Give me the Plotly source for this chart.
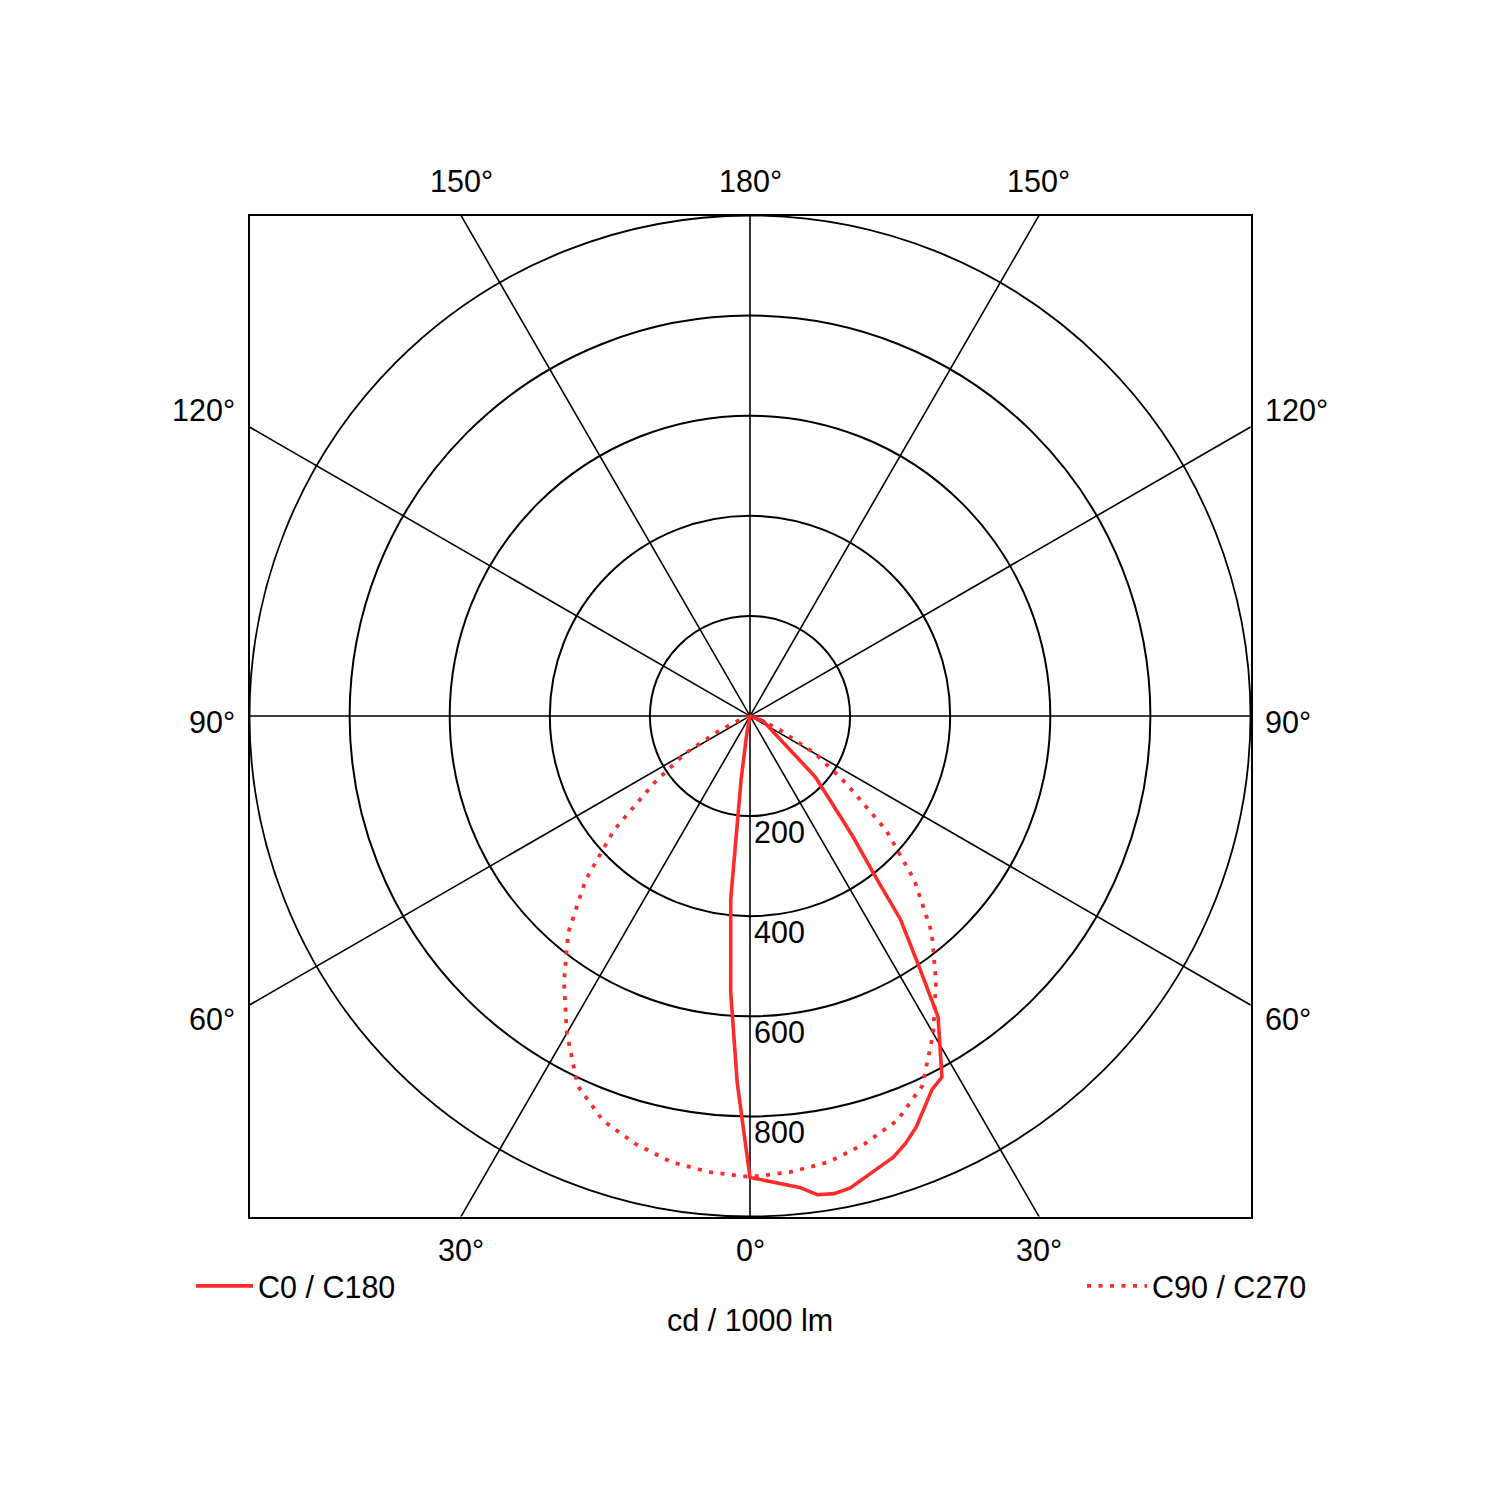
import numpy as np
import plotly.graph_objects as go

# light distribution, values in cd / 1000 lm
gamma_c0 = [0, 6, 8, 10, 12, 14, 18, 20, 22, 26, 28, 32, 34, 36.5, 38, 40.5, 44, 47, 69, 90]
cd_c0 = [922, 947, 966, 969, 964, 950, 927, 909, 886, 830, 817, 709, 604, 505, 406, 316, 223, 178, 28, 0]

gamma_c180 = [0, 2, 4, 6, 8, 10.5, 90]
cd_c180 = [922, 733, 553, 368, 127, 33, 0]

gamma_c90 = [0, 5, 10, 15, 20, 25, 30, 35, 40, 45, 50, 55, 60, 65, 70, 75]
cd_c90 = [921, 915, 905, 885, 860, 815, 732, 648, 565, 465, 355, 235, 150, 65, 20, 0]

radial_ticks = [200, 400, 600, 800]
spoke_angles = [0, 30, 60, 90, 120, 150]

RED = "#ff2b2b"
FONT = "Liberation Sans, Arial, sans-serif"
FS = 30.5

# page body has an 8 px margin, so pixel positions are shifted by that
OFF = 8


def px_x(p):
    return (p - OFF) / 1500


def px_y(p):
    return 1 - (p - OFF) / 1500


# plot area: 1001 px square centred at (750, 716)
half = 1001 / 1500 / 2
cx, cy = px_x(750), px_y(716)
dom_x = [cx - half, cx + half]
dom_y = [cy - half, cy + half]

fig = go.Figure()

# spokes (drawn on a cartesian frame so they run out to the square box)
L = 3000
sx, sy = [], []
for a in spoke_angles:
    t = np.radians(a)
    sx += [-L * np.sin(t), L * np.sin(t), None]
    sy += [L * np.cos(t), -L * np.cos(t), None]
fig.add_trace(go.Scatter(x=sx, y=sy, mode="lines", line=dict(color="black", width=1.6),
                         showlegend=False, hoverinfo="skip"))

# C0 / C180 plane (C180 on the left = negative angles)
theta_solid = [-g for g in gamma_c180[::-1]] + gamma_c0[1:]
r_solid = cd_c180[::-1] + cd_c0[1:]
fig.add_trace(go.Scatterpolar(r=r_solid, theta=theta_solid, mode="lines", name="C0 / C180",
                              line=dict(color=RED, width=3.6), legend="legend"))

# C90 / C270 plane
theta_dot = [-g for g in gamma_c90[::-1]] + gamma_c90[1:]
r_dot = cd_c90[::-1] + cd_c90[1:]
fig.add_trace(go.Scatterpolar(r=r_dot, theta=theta_dot, mode="lines", name="C90 / C270",
                              line=dict(color=RED, width=3.8, dash="4px,7.5px"), legend="legend2"))

ann = []
# radial tick labels just below each ring on the 0 deg spoke
for v in radial_ticks:
    ann.append(dict(x=0, y=-v, text=str(v), xanchor="left", xshift=2, yshift=-16))

# angle labels outside the box
t30 = 1000 * np.tan(np.radians(30))
for x, txt in [(-t30, "150°"), (0, "180°"), (t30, "150°")]:
    ann.append(dict(x=x, y=1000, text=txt, yshift=34))
for x, txt in [(-t30, "30°"), (0, "0°"), (t30, "30°")]:
    ann.append(dict(x=x, y=-1000, text=txt, yshift=-33))
for y, txt, ys in [(t30, "120°", 17), (0, "90°", -6), (-t30, "60°", -14)]:
    ann.append(dict(x=-1000, y=y, text=txt, xanchor="right", xshift=-12, yshift=ys))
    ann.append(dict(x=1000, y=y, text=txt, xanchor="left", xshift=12, yshift=ys))
for a in ann:
    a.update(xref="x", yref="y", showarrow=False, yanchor="middle",
             font=dict(family=FONT, size=FS, color="black"))
    a.setdefault("xanchor", "center")
ann.append(dict(x=px_x(750), y=px_y(1320), xref="paper", yref="paper", text="cd / 1000 lm",
                xanchor="center", yanchor="middle", showarrow=False,
                font=dict(family=FONT, size=FS, color="black")))

axis = dict(range=[-1000, 1000], showgrid=False, zeroline=False, showticklabels=False,
            showline=True, mirror=True, linecolor="black", linewidth=2, ticks="", fixedrange=True)

fig.update_layout(
    width=1500, height=1500,
    margin=dict(l=0, r=0, t=0, b=0),
    paper_bgcolor="white", plot_bgcolor="white",
    font=dict(family=FONT, size=FS, color="black"),
    xaxis=dict(axis, domain=dom_x),
    yaxis=dict(axis, domain=dom_y),
    polar=dict(
        domain=dict(x=dom_x, y=dom_y),
        bgcolor="rgba(0,0,0,0)",
        angularaxis=dict(rotation=-90, direction="counterclockwise", showgrid=False,
                         showticklabels=False, ticks="", showline=True,
                         linecolor="black", linewidth=1.8),
        radialaxis=dict(range=[0, 1000], tickvals=radial_ticks, showgrid=True,
                        gridcolor="black", gridwidth=1.6, showticklabels=False,
                        ticks="", showline=False),
    ),
    legend=dict(x=px_x(191), y=px_y(1286), xanchor="left", yanchor="middle",
                font=dict(family=FONT, size=FS), itemwidth=57, bgcolor="rgba(0,0,0,0)"),
    legend2=dict(x=px_x(1312), y=px_y(1286), xanchor="right", yanchor="middle",
                 font=dict(family=FONT, size=FS), itemwidth=60, bgcolor="rgba(0,0,0,0)"),
    annotations=ann,
)

fig.write_html("out.html")
